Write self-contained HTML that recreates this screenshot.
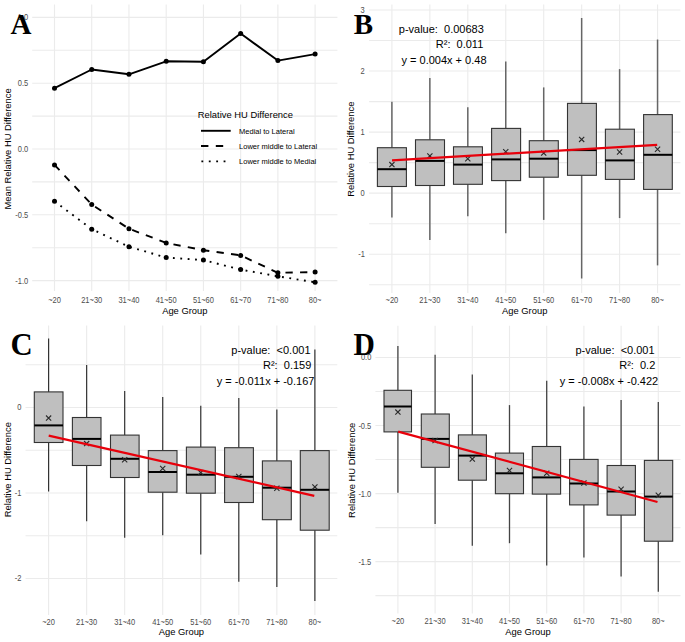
<!DOCTYPE html>
<html><head><meta charset="utf-8"><style>
html,body{margin:0;padding:0;background:#fff;}
body{width:685px;height:642px;overflow:hidden;}
svg{display:block;font-family:"Liberation Sans", sans-serif;}
</style></head><body>
<svg width="685" height="642" viewBox="0 0 685 642">
<rect width="685" height="642" fill="#fff"/>
<line x1="54.50" y1="4.5" x2="54.50" y2="291" stroke="#ebebeb" stroke-width="1.1"/>
<line x1="91.73" y1="4.5" x2="91.73" y2="291" stroke="#ebebeb" stroke-width="1.1"/>
<line x1="128.96" y1="4.5" x2="128.96" y2="291" stroke="#ebebeb" stroke-width="1.1"/>
<line x1="166.19" y1="4.5" x2="166.19" y2="291" stroke="#ebebeb" stroke-width="1.1"/>
<line x1="203.42" y1="4.5" x2="203.42" y2="291" stroke="#ebebeb" stroke-width="1.1"/>
<line x1="240.65" y1="4.5" x2="240.65" y2="291" stroke="#ebebeb" stroke-width="1.1"/>
<line x1="277.88" y1="4.5" x2="277.88" y2="291" stroke="#ebebeb" stroke-width="1.1"/>
<line x1="315.11" y1="4.5" x2="315.11" y2="291" stroke="#ebebeb" stroke-width="1.1"/>
<line x1="32.2" y1="17.40" x2="337.4" y2="17.40" stroke="#ebebeb" stroke-width="1.1"/>
<line x1="32.2" y1="50.30" x2="337.4" y2="50.30" stroke="#ebebeb" stroke-width="1.1"/>
<line x1="32.2" y1="83.20" x2="337.4" y2="83.20" stroke="#ebebeb" stroke-width="1.1"/>
<line x1="32.2" y1="116.10" x2="337.4" y2="116.10" stroke="#ebebeb" stroke-width="1.1"/>
<line x1="32.2" y1="149.00" x2="337.4" y2="149.00" stroke="#ebebeb" stroke-width="1.1"/>
<line x1="32.2" y1="181.90" x2="337.4" y2="181.90" stroke="#ebebeb" stroke-width="1.1"/>
<line x1="32.2" y1="214.80" x2="337.4" y2="214.80" stroke="#ebebeb" stroke-width="1.1"/>
<line x1="32.2" y1="247.70" x2="337.4" y2="247.70" stroke="#ebebeb" stroke-width="1.1"/>
<line x1="32.2" y1="280.60" x2="337.4" y2="280.60" stroke="#ebebeb" stroke-width="1.1"/>
<text transform="translate(28.2,20.35) scale(1,1.12)" text-anchor="end" font-size="7.5" fill="#4d4d4d">1.0</text>
<text transform="translate(28.2,86.15) scale(1,1.12)" text-anchor="end" font-size="7.5" fill="#4d4d4d">0.5</text>
<text transform="translate(28.2,151.95) scale(1,1.12)" text-anchor="end" font-size="7.5" fill="#4d4d4d">0.0</text>
<text transform="translate(28.2,217.75) scale(1,1.12)" text-anchor="end" font-size="7.5" fill="#4d4d4d">-0.5</text>
<text transform="translate(28.2,283.55) scale(1,1.12)" text-anchor="end" font-size="7.5" fill="#4d4d4d">-1.0</text>
<text transform="translate(54.50,303.4) scale(1,1.12)" text-anchor="middle" font-size="7.5" fill="#4d4d4d">~20</text>
<text transform="translate(91.73,303.4) scale(1,1.12)" text-anchor="middle" font-size="7.5" fill="#4d4d4d">21~30</text>
<text transform="translate(128.96,303.4) scale(1,1.12)" text-anchor="middle" font-size="7.5" fill="#4d4d4d">31~40</text>
<text transform="translate(166.19,303.4) scale(1,1.12)" text-anchor="middle" font-size="7.5" fill="#4d4d4d">41~50</text>
<text transform="translate(203.42,303.4) scale(1,1.12)" text-anchor="middle" font-size="7.5" fill="#4d4d4d">51~60</text>
<text transform="translate(240.65,303.4) scale(1,1.12)" text-anchor="middle" font-size="7.5" fill="#4d4d4d">61~70</text>
<text transform="translate(277.88,303.4) scale(1,1.12)" text-anchor="middle" font-size="7.5" fill="#4d4d4d">71~80</text>
<text transform="translate(315.11,303.4) scale(1,1.12)" text-anchor="middle" font-size="7.5" fill="#4d4d4d">80~</text>
<text x="184.8" y="314.4" text-anchor="middle" font-size="9.4" fill="#000">Age Group</text>
<text transform="translate(11.2,149) rotate(-90)" x="0" y="0" text-anchor="middle" font-size="9.4" fill="#000">Mean Relative HU Difference</text>
<polyline points="54.50,88.2 91.73,69.5 128.96,74.3 166.19,61.3 203.42,61.8 240.65,33.6 277.88,60.6 315.11,54.1" fill="none" stroke="#000" stroke-width="1.9" stroke-linejoin="round" />
<circle cx="54.50" cy="88.2" r="2.5" fill="#000"/>
<circle cx="91.73" cy="69.5" r="2.5" fill="#000"/>
<circle cx="128.96" cy="74.3" r="2.5" fill="#000"/>
<circle cx="166.19" cy="61.3" r="2.5" fill="#000"/>
<circle cx="203.42" cy="61.8" r="2.5" fill="#000"/>
<circle cx="240.65" cy="33.6" r="2.5" fill="#000"/>
<circle cx="277.88" cy="60.6" r="2.5" fill="#000"/>
<circle cx="315.11" cy="54.1" r="2.5" fill="#000"/>
<polyline points="54.50,164.9 91.73,204.5 128.96,228.7 166.19,242.9 203.42,250.2 240.65,255.4 277.88,272.8 315.11,272.1" fill="none" stroke="#000" stroke-width="1.9" stroke-linejoin="round" stroke-dasharray="7.3,7.3"/>
<circle cx="54.50" cy="164.9" r="2.5" fill="#000"/>
<circle cx="91.73" cy="204.5" r="2.5" fill="#000"/>
<circle cx="128.96" cy="228.7" r="2.5" fill="#000"/>
<circle cx="166.19" cy="242.9" r="2.5" fill="#000"/>
<circle cx="203.42" cy="250.2" r="2.5" fill="#000"/>
<circle cx="240.65" cy="255.4" r="2.5" fill="#000"/>
<circle cx="277.88" cy="272.8" r="2.5" fill="#000"/>
<circle cx="315.11" cy="272.1" r="2.5" fill="#000"/>
<polyline points="54.50,201.3 91.73,229.2 128.96,246.7 166.19,257.6 203.42,260.1 240.65,269.6 277.88,276.3 315.11,282.3" fill="none" stroke="#000" stroke-width="1.9" stroke-linejoin="round" stroke-dasharray="1.85,5.55" stroke-linecap="butt"/>
<circle cx="54.50" cy="201.3" r="2.5" fill="#000"/>
<circle cx="91.73" cy="229.2" r="2.5" fill="#000"/>
<circle cx="128.96" cy="246.7" r="2.5" fill="#000"/>
<circle cx="166.19" cy="257.6" r="2.5" fill="#000"/>
<circle cx="203.42" cy="260.1" r="2.5" fill="#000"/>
<circle cx="240.65" cy="269.6" r="2.5" fill="#000"/>
<circle cx="277.88" cy="276.3" r="2.5" fill="#000"/>
<circle cx="315.11" cy="282.3" r="2.5" fill="#000"/>
<text x="197.8" y="118.3" font-size="9.4" fill="#000">Relative HU Difference</text>
<line x1="201" y1="130.8" x2="230.7" y2="130.8" stroke="#000" stroke-width="1.9"/>
<line x1="201" y1="146" x2="224" y2="146" stroke="#000" stroke-width="1.9" stroke-dasharray="7.4,7.4"/>
<line x1="201.4" y1="161.4" x2="230.7" y2="161.4" stroke="#000" stroke-width="1.9" stroke-dasharray="1.85,5.55"/>
<text x="239.1" y="133.50" font-size="7.5" fill="#000">Medial to Lateral</text>
<text x="239.1" y="148.70" font-size="7.5" fill="#000">Lower middle to Lateral</text>
<text x="239.1" y="164.10" font-size="7.5" fill="#000">Lower middle to Medial</text>
<text x="10.5" y="33.9" font-family='"Liberation Serif", serif' font-weight="bold" font-size="29" fill="#000">A</text>
<line x1="391.90" y1="4.5" x2="391.90" y2="293" stroke="#ebebeb" stroke-width="1.1"/>
<line x1="429.85" y1="4.5" x2="429.85" y2="293" stroke="#ebebeb" stroke-width="1.1"/>
<line x1="467.80" y1="4.5" x2="467.80" y2="293" stroke="#ebebeb" stroke-width="1.1"/>
<line x1="505.75" y1="4.5" x2="505.75" y2="293" stroke="#ebebeb" stroke-width="1.1"/>
<line x1="543.70" y1="4.5" x2="543.70" y2="293" stroke="#ebebeb" stroke-width="1.1"/>
<line x1="581.65" y1="4.5" x2="581.65" y2="293" stroke="#ebebeb" stroke-width="1.1"/>
<line x1="619.60" y1="4.5" x2="619.60" y2="293" stroke="#ebebeb" stroke-width="1.1"/>
<line x1="657.55" y1="4.5" x2="657.55" y2="293" stroke="#ebebeb" stroke-width="1.1"/>
<line x1="369.1" y1="10.00" x2="680.4" y2="10.00" stroke="#ebebeb" stroke-width="1.1"/>
<line x1="369.1" y1="40.53" x2="680.4" y2="40.53" stroke="#ebebeb" stroke-width="1.1"/>
<line x1="369.1" y1="71.05" x2="680.4" y2="71.05" stroke="#ebebeb" stroke-width="1.1"/>
<line x1="369.1" y1="101.58" x2="680.4" y2="101.58" stroke="#ebebeb" stroke-width="1.1"/>
<line x1="369.1" y1="132.10" x2="680.4" y2="132.10" stroke="#ebebeb" stroke-width="1.1"/>
<line x1="369.1" y1="162.62" x2="680.4" y2="162.62" stroke="#ebebeb" stroke-width="1.1"/>
<line x1="369.1" y1="193.15" x2="680.4" y2="193.15" stroke="#ebebeb" stroke-width="1.1"/>
<line x1="369.1" y1="223.68" x2="680.4" y2="223.68" stroke="#ebebeb" stroke-width="1.1"/>
<line x1="369.1" y1="254.20" x2="680.4" y2="254.20" stroke="#ebebeb" stroke-width="1.1"/>
<line x1="369.1" y1="284.73" x2="680.4" y2="284.73" stroke="#ebebeb" stroke-width="1.1"/>
<text transform="translate(364.8,12.95) scale(1,1.12)" text-anchor="end" font-size="7.5" fill="#4d4d4d">3</text>
<text transform="translate(364.8,74.00) scale(1,1.12)" text-anchor="end" font-size="7.5" fill="#4d4d4d">2</text>
<text transform="translate(364.8,135.05) scale(1,1.12)" text-anchor="end" font-size="7.5" fill="#4d4d4d">1</text>
<text transform="translate(364.8,196.10) scale(1,1.12)" text-anchor="end" font-size="7.5" fill="#4d4d4d">0</text>
<text transform="translate(364.8,257.15) scale(1,1.12)" text-anchor="end" font-size="7.5" fill="#4d4d4d">-1</text>
<text transform="translate(391.90,303.4) scale(1,1.12)" text-anchor="middle" font-size="7.5" fill="#4d4d4d">~20</text>
<text transform="translate(429.85,303.4) scale(1,1.12)" text-anchor="middle" font-size="7.5" fill="#4d4d4d">21~30</text>
<text transform="translate(467.80,303.4) scale(1,1.12)" text-anchor="middle" font-size="7.5" fill="#4d4d4d">31~40</text>
<text transform="translate(505.75,303.4) scale(1,1.12)" text-anchor="middle" font-size="7.5" fill="#4d4d4d">41~50</text>
<text transform="translate(543.70,303.4) scale(1,1.12)" text-anchor="middle" font-size="7.5" fill="#4d4d4d">51~60</text>
<text transform="translate(581.65,303.4) scale(1,1.12)" text-anchor="middle" font-size="7.5" fill="#4d4d4d">61~70</text>
<text transform="translate(619.60,303.4) scale(1,1.12)" text-anchor="middle" font-size="7.5" fill="#4d4d4d">71~80</text>
<text transform="translate(657.55,303.4) scale(1,1.12)" text-anchor="middle" font-size="7.5" fill="#4d4d4d">80~</text>
<text x="524.7" y="314.4" text-anchor="middle" font-size="9.4" fill="#000">Age Group</text>
<text transform="translate(354.3,149.2) rotate(-90)" x="0" y="0" text-anchor="middle" font-size="9.4" fill="#000">Relative HU Difference</text>
<line x1="391.90" y1="101.8" x2="391.90" y2="147.7" stroke="#666" stroke-width="1.5"/>
<line x1="391.90" y1="186.5" x2="391.90" y2="217.4" stroke="#666" stroke-width="1.5"/>
<rect x="377.4" y="147.7" width="29.00" height="38.80" fill="#bfbfbf" stroke="#333" stroke-width="1.1"/>
<line x1="377.4" y1="169.2" x2="406.4" y2="169.2" stroke="#000" stroke-width="2"/>
<line x1="429.85" y1="78" x2="429.85" y2="139.8" stroke="#666" stroke-width="1.5"/>
<line x1="429.85" y1="185.5" x2="429.85" y2="239.9" stroke="#666" stroke-width="1.5"/>
<rect x="415.5" y="139.8" width="29.00" height="45.70" fill="#bfbfbf" stroke="#333" stroke-width="1.1"/>
<line x1="415.5" y1="160.9" x2="444.5" y2="160.9" stroke="#000" stroke-width="2"/>
<line x1="467.80" y1="107.2" x2="467.80" y2="146.8" stroke="#666" stroke-width="1.5"/>
<line x1="467.80" y1="184.3" x2="467.80" y2="216.3" stroke="#666" stroke-width="1.5"/>
<rect x="453.5" y="146.8" width="28.90" height="37.50" fill="#bfbfbf" stroke="#333" stroke-width="1.1"/>
<line x1="453.5" y1="164.6" x2="482.4" y2="164.6" stroke="#000" stroke-width="2"/>
<line x1="505.75" y1="61.4" x2="505.75" y2="128.4" stroke="#666" stroke-width="1.5"/>
<line x1="505.75" y1="180.6" x2="505.75" y2="233.3" stroke="#666" stroke-width="1.5"/>
<rect x="491.6" y="128.4" width="29.00" height="52.20" fill="#bfbfbf" stroke="#333" stroke-width="1.1"/>
<line x1="491.6" y1="159.4" x2="520.6" y2="159.4" stroke="#000" stroke-width="2"/>
<line x1="543.70" y1="87.4" x2="543.70" y2="140.7" stroke="#666" stroke-width="1.5"/>
<line x1="543.70" y1="177.2" x2="543.70" y2="219.9" stroke="#666" stroke-width="1.5"/>
<rect x="529.3" y="140.7" width="29.00" height="36.50" fill="#bfbfbf" stroke="#333" stroke-width="1.1"/>
<line x1="529.3" y1="158.7" x2="558.3" y2="158.7" stroke="#000" stroke-width="2"/>
<line x1="581.65" y1="18" x2="581.65" y2="103.4" stroke="#666" stroke-width="1.5"/>
<line x1="581.65" y1="175.3" x2="581.65" y2="278.5" stroke="#666" stroke-width="1.5"/>
<rect x="567.5" y="103.4" width="28.90" height="71.90" fill="#bfbfbf" stroke="#333" stroke-width="1.1"/>
<line x1="567.5" y1="150.1" x2="596.4" y2="150.1" stroke="#000" stroke-width="2"/>
<line x1="619.60" y1="69.1" x2="619.60" y2="129.2" stroke="#666" stroke-width="1.5"/>
<line x1="619.60" y1="179.4" x2="619.60" y2="218.1" stroke="#666" stroke-width="1.5"/>
<rect x="605.4" y="129.2" width="29.00" height="50.20" fill="#bfbfbf" stroke="#333" stroke-width="1.1"/>
<line x1="605.4" y1="160.4" x2="634.4" y2="160.4" stroke="#000" stroke-width="2"/>
<line x1="657.55" y1="39.5" x2="657.55" y2="114.6" stroke="#666" stroke-width="1.5"/>
<line x1="657.55" y1="189.4" x2="657.55" y2="265.4" stroke="#666" stroke-width="1.5"/>
<rect x="643.6" y="114.6" width="28.70" height="74.80" fill="#bfbfbf" stroke="#333" stroke-width="1.1"/>
<line x1="643.6" y1="154.8" x2="672.3" y2="154.8" stroke="#000" stroke-width="2"/>
<path d="M389.30,162.00L394.50,167.20M389.30,167.20L394.50,162.00" stroke="#2a2a2a" stroke-width="1.1" fill="none"/>
<path d="M427.25,153.30L432.45,158.50M427.25,158.50L432.45,153.30" stroke="#2a2a2a" stroke-width="1.1" fill="none"/>
<path d="M465.20,156.10L470.40,161.30M465.20,161.30L470.40,156.10" stroke="#2a2a2a" stroke-width="1.1" fill="none"/>
<path d="M503.15,149.20L508.35,154.40M503.15,154.40L508.35,149.20" stroke="#2a2a2a" stroke-width="1.1" fill="none"/>
<path d="M541.10,150.50L546.30,155.70M541.10,155.70L546.30,150.50" stroke="#2a2a2a" stroke-width="1.1" fill="none"/>
<path d="M579.05,136.80L584.25,142.00M579.05,142.00L584.25,136.80" stroke="#2a2a2a" stroke-width="1.1" fill="none"/>
<path d="M617.00,149.40L622.20,154.60M617.00,154.60L622.20,149.40" stroke="#2a2a2a" stroke-width="1.1" fill="none"/>
<path d="M654.95,146.60L660.15,151.80M654.95,151.80L660.15,146.60" stroke="#2a2a2a" stroke-width="1.1" fill="none"/>
<line x1="392" y1="160.3" x2="657.2" y2="144.9" stroke="#e8000b" stroke-width="2.2"/>
<text x="483.8" y="32.60" text-anchor="end" font-size="11" fill="#000" xml:space="preserve">p-value:  0.00683</text>
<text x="483.3" y="48.30" text-anchor="end" font-size="11" fill="#000" xml:space="preserve">R²:  0.011</text>
<text x="486.5" y="63.70" text-anchor="end" font-size="11" fill="#000" xml:space="preserve">y = 0.004x + 0.48</text>
<text transform="translate(353.7,34.3) scale(1,1.05)" font-family='"Liberation Serif", serif' font-weight="bold" font-size="29" fill="#000">B</text>
<line x1="48.60" y1="325.4" x2="48.60" y2="615" stroke="#ebebeb" stroke-width="1.1"/>
<line x1="86.64" y1="325.4" x2="86.64" y2="615" stroke="#ebebeb" stroke-width="1.1"/>
<line x1="124.68" y1="325.4" x2="124.68" y2="615" stroke="#ebebeb" stroke-width="1.1"/>
<line x1="162.72" y1="325.4" x2="162.72" y2="615" stroke="#ebebeb" stroke-width="1.1"/>
<line x1="200.76" y1="325.4" x2="200.76" y2="615" stroke="#ebebeb" stroke-width="1.1"/>
<line x1="238.80" y1="325.4" x2="238.80" y2="615" stroke="#ebebeb" stroke-width="1.1"/>
<line x1="276.84" y1="325.4" x2="276.84" y2="615" stroke="#ebebeb" stroke-width="1.1"/>
<line x1="314.88" y1="325.4" x2="314.88" y2="615" stroke="#ebebeb" stroke-width="1.1"/>
<line x1="25.5" y1="364.75" x2="337.3" y2="364.75" stroke="#ebebeb" stroke-width="1.1"/>
<line x1="25.5" y1="407.50" x2="337.3" y2="407.50" stroke="#ebebeb" stroke-width="1.1"/>
<line x1="25.5" y1="450.25" x2="337.3" y2="450.25" stroke="#ebebeb" stroke-width="1.1"/>
<line x1="25.5" y1="493.00" x2="337.3" y2="493.00" stroke="#ebebeb" stroke-width="1.1"/>
<line x1="25.5" y1="535.75" x2="337.3" y2="535.75" stroke="#ebebeb" stroke-width="1.1"/>
<line x1="25.5" y1="578.50" x2="337.3" y2="578.50" stroke="#ebebeb" stroke-width="1.1"/>
<text transform="translate(21.5,410.45) scale(1,1.12)" text-anchor="end" font-size="7.5" fill="#4d4d4d">0</text>
<text transform="translate(21.5,495.95) scale(1,1.12)" text-anchor="end" font-size="7.5" fill="#4d4d4d">-1</text>
<text transform="translate(21.5,581.45) scale(1,1.12)" text-anchor="end" font-size="7.5" fill="#4d4d4d">-2</text>
<text transform="translate(48.60,624.6) scale(1,1.12)" text-anchor="middle" font-size="7.5" fill="#4d4d4d">~20</text>
<text transform="translate(86.64,624.6) scale(1,1.12)" text-anchor="middle" font-size="7.5" fill="#4d4d4d">21~30</text>
<text transform="translate(124.68,624.6) scale(1,1.12)" text-anchor="middle" font-size="7.5" fill="#4d4d4d">31~40</text>
<text transform="translate(162.72,624.6) scale(1,1.12)" text-anchor="middle" font-size="7.5" fill="#4d4d4d">41~50</text>
<text transform="translate(200.76,624.6) scale(1,1.12)" text-anchor="middle" font-size="7.5" fill="#4d4d4d">51~60</text>
<text transform="translate(238.80,624.6) scale(1,1.12)" text-anchor="middle" font-size="7.5" fill="#4d4d4d">61~70</text>
<text transform="translate(276.84,624.6) scale(1,1.12)" text-anchor="middle" font-size="7.5" fill="#4d4d4d">71~80</text>
<text transform="translate(314.88,624.6) scale(1,1.12)" text-anchor="middle" font-size="7.5" fill="#4d4d4d">80~</text>
<text x="181.4" y="635.4" text-anchor="middle" font-size="9.4" fill="#000">Age Group</text>
<text transform="translate(11.2,469.7) rotate(-90)" x="0" y="0" text-anchor="middle" font-size="9.4" fill="#000">Relative HU Difference</text>
<line x1="48.60" y1="338.5" x2="48.60" y2="391.9" stroke="#333" stroke-width="1.2"/>
<line x1="48.60" y1="442.5" x2="48.60" y2="491.5" stroke="#333" stroke-width="1.2"/>
<rect x="34.3" y="391.9" width="28.70" height="50.60" fill="#bfbfbf" stroke="#333" stroke-width="1.1"/>
<line x1="34.3" y1="425.4" x2="63" y2="425.4" stroke="#000" stroke-width="2"/>
<line x1="86.64" y1="365" x2="86.64" y2="417.5" stroke="#333" stroke-width="1.2"/>
<line x1="86.64" y1="465.5" x2="86.64" y2="521.2" stroke="#333" stroke-width="1.2"/>
<rect x="72.4" y="417.5" width="28.60" height="48.00" fill="#bfbfbf" stroke="#333" stroke-width="1.1"/>
<line x1="72.4" y1="438.9" x2="101" y2="438.9" stroke="#000" stroke-width="2"/>
<line x1="124.68" y1="390.9" x2="124.68" y2="435.1" stroke="#333" stroke-width="1.2"/>
<line x1="124.68" y1="477.5" x2="124.68" y2="537.8" stroke="#333" stroke-width="1.2"/>
<rect x="110.5" y="435.1" width="28.60" height="42.40" fill="#bfbfbf" stroke="#333" stroke-width="1.1"/>
<line x1="110.5" y1="458.8" x2="139.1" y2="458.8" stroke="#000" stroke-width="2"/>
<line x1="162.72" y1="397" x2="162.72" y2="450.6" stroke="#333" stroke-width="1.2"/>
<line x1="162.72" y1="492.2" x2="162.72" y2="535.3" stroke="#333" stroke-width="1.2"/>
<rect x="148.3" y="450.6" width="28.70" height="41.60" fill="#bfbfbf" stroke="#333" stroke-width="1.1"/>
<line x1="148.3" y1="472" x2="177" y2="472" stroke="#000" stroke-width="2"/>
<line x1="200.76" y1="405.7" x2="200.76" y2="447.1" stroke="#333" stroke-width="1.2"/>
<line x1="200.76" y1="493.2" x2="200.76" y2="554.4" stroke="#333" stroke-width="1.2"/>
<rect x="186.4" y="447.1" width="28.90" height="46.10" fill="#bfbfbf" stroke="#333" stroke-width="1.1"/>
<line x1="186.4" y1="474.7" x2="215.3" y2="474.7" stroke="#000" stroke-width="2"/>
<line x1="238.80" y1="397.9" x2="238.80" y2="447.7" stroke="#333" stroke-width="1.2"/>
<line x1="238.80" y1="502.5" x2="238.80" y2="581.8" stroke="#333" stroke-width="1.2"/>
<rect x="224.6" y="447.7" width="28.80" height="54.80" fill="#bfbfbf" stroke="#333" stroke-width="1.1"/>
<line x1="224.6" y1="476.8" x2="253.4" y2="476.8" stroke="#000" stroke-width="2"/>
<line x1="276.84" y1="409.5" x2="276.84" y2="460.9" stroke="#333" stroke-width="1.2"/>
<line x1="276.84" y1="519.7" x2="276.84" y2="586.9" stroke="#333" stroke-width="1.2"/>
<rect x="262.4" y="460.9" width="28.90" height="58.80" fill="#bfbfbf" stroke="#333" stroke-width="1.1"/>
<line x1="262.4" y1="487.7" x2="291.3" y2="487.7" stroke="#000" stroke-width="2"/>
<line x1="314.88" y1="349.4" x2="314.88" y2="450.6" stroke="#333" stroke-width="1.2"/>
<line x1="314.88" y1="530.2" x2="314.88" y2="600.9" stroke="#333" stroke-width="1.2"/>
<rect x="300.3" y="450.6" width="28.90" height="79.60" fill="#bfbfbf" stroke="#333" stroke-width="1.1"/>
<line x1="300.3" y1="489.8" x2="329.2" y2="489.8" stroke="#000" stroke-width="2"/>
<path d="M46.00,415.50L51.20,420.70M46.00,420.70L51.20,415.50" stroke="#2a2a2a" stroke-width="1.1" fill="none"/>
<path d="M84.04,441.00L89.24,446.20M84.04,446.20L89.24,441.00" stroke="#2a2a2a" stroke-width="1.1" fill="none"/>
<path d="M122.08,457.20L127.28,462.40M122.08,462.40L127.28,457.20" stroke="#2a2a2a" stroke-width="1.1" fill="none"/>
<path d="M160.12,465.90L165.32,471.10M160.12,471.10L165.32,465.90" stroke="#2a2a2a" stroke-width="1.1" fill="none"/>
<path d="M198.16,470.00L203.36,475.20M198.16,475.20L203.36,470.00" stroke="#2a2a2a" stroke-width="1.1" fill="none"/>
<path d="M236.20,473.90L241.40,479.10M236.20,479.10L241.40,473.90" stroke="#2a2a2a" stroke-width="1.1" fill="none"/>
<path d="M274.24,485.60L279.44,490.80M274.24,490.80L279.44,485.60" stroke="#2a2a2a" stroke-width="1.1" fill="none"/>
<path d="M312.28,484.30L317.48,489.50M312.28,489.50L317.48,484.30" stroke="#2a2a2a" stroke-width="1.1" fill="none"/>
<line x1="48.7" y1="435.6" x2="314.3" y2="495.9" stroke="#e8000b" stroke-width="2.2"/>
<text x="310.5" y="353.80" text-anchor="end" font-size="11" fill="#000" xml:space="preserve">p-value:  &lt;0.001</text>
<text x="311.3" y="369.40" text-anchor="end" font-size="11" fill="#000" xml:space="preserve">R²:  0.159</text>
<text x="314.4" y="385.20" text-anchor="end" font-size="11" fill="#000" xml:space="preserve">y = -0.011x + -0.167</text>
<text transform="translate(10.6,355) scale(1.06,1.12)" font-family='"Liberation Serif", serif' font-weight="bold" font-size="29" fill="#000">C</text>
<line x1="397.90" y1="325.7" x2="397.90" y2="613.4" stroke="#ebebeb" stroke-width="1.1"/>
<line x1="435.10" y1="325.7" x2="435.10" y2="613.4" stroke="#ebebeb" stroke-width="1.1"/>
<line x1="472.30" y1="325.7" x2="472.30" y2="613.4" stroke="#ebebeb" stroke-width="1.1"/>
<line x1="509.50" y1="325.7" x2="509.50" y2="613.4" stroke="#ebebeb" stroke-width="1.1"/>
<line x1="546.70" y1="325.7" x2="546.70" y2="613.4" stroke="#ebebeb" stroke-width="1.1"/>
<line x1="583.90" y1="325.7" x2="583.90" y2="613.4" stroke="#ebebeb" stroke-width="1.1"/>
<line x1="621.10" y1="325.7" x2="621.10" y2="613.4" stroke="#ebebeb" stroke-width="1.1"/>
<line x1="658.30" y1="325.7" x2="658.30" y2="613.4" stroke="#ebebeb" stroke-width="1.1"/>
<line x1="375.4" y1="357.50" x2="680.5" y2="357.50" stroke="#ebebeb" stroke-width="1.1"/>
<line x1="375.4" y1="391.52" x2="680.5" y2="391.52" stroke="#ebebeb" stroke-width="1.1"/>
<line x1="375.4" y1="425.55" x2="680.5" y2="425.55" stroke="#ebebeb" stroke-width="1.1"/>
<line x1="375.4" y1="459.57" x2="680.5" y2="459.57" stroke="#ebebeb" stroke-width="1.1"/>
<line x1="375.4" y1="493.60" x2="680.5" y2="493.60" stroke="#ebebeb" stroke-width="1.1"/>
<line x1="375.4" y1="527.62" x2="680.5" y2="527.62" stroke="#ebebeb" stroke-width="1.1"/>
<line x1="375.4" y1="561.65" x2="680.5" y2="561.65" stroke="#ebebeb" stroke-width="1.1"/>
<line x1="375.4" y1="595.67" x2="680.5" y2="595.67" stroke="#ebebeb" stroke-width="1.1"/>
<text transform="translate(371.3,360.45) scale(1,1.12)" text-anchor="end" font-size="7.5" fill="#4d4d4d">0.0</text>
<text transform="translate(371.3,428.50) scale(1,1.12)" text-anchor="end" font-size="7.5" fill="#4d4d4d">-0.5</text>
<text transform="translate(371.3,496.55) scale(1,1.12)" text-anchor="end" font-size="7.5" fill="#4d4d4d">-1.0</text>
<text transform="translate(371.3,564.60) scale(1,1.12)" text-anchor="end" font-size="7.5" fill="#4d4d4d">-1.5</text>
<text transform="translate(397.90,624.4) scale(1,1.12)" text-anchor="middle" font-size="7.5" fill="#4d4d4d">~20</text>
<text transform="translate(435.10,624.4) scale(1,1.12)" text-anchor="middle" font-size="7.5" fill="#4d4d4d">21~30</text>
<text transform="translate(472.30,624.4) scale(1,1.12)" text-anchor="middle" font-size="7.5" fill="#4d4d4d">31~40</text>
<text transform="translate(509.50,624.4) scale(1,1.12)" text-anchor="middle" font-size="7.5" fill="#4d4d4d">41~50</text>
<text transform="translate(546.70,624.4) scale(1,1.12)" text-anchor="middle" font-size="7.5" fill="#4d4d4d">51~60</text>
<text transform="translate(583.90,624.4) scale(1,1.12)" text-anchor="middle" font-size="7.5" fill="#4d4d4d">61~70</text>
<text transform="translate(621.10,624.4) scale(1,1.12)" text-anchor="middle" font-size="7.5" fill="#4d4d4d">71~80</text>
<text transform="translate(658.30,624.4) scale(1,1.12)" text-anchor="middle" font-size="7.5" fill="#4d4d4d">80~</text>
<text x="528" y="635.2" text-anchor="middle" font-size="9.4" fill="#000">Age Group</text>
<text transform="translate(355.3,470.3) rotate(-90)" x="0" y="0" text-anchor="middle" font-size="9.4" fill="#000">Relative HU Difference</text>
<line x1="397.90" y1="345.9" x2="397.90" y2="390.3" stroke="#444" stroke-width="1.3"/>
<line x1="397.90" y1="431.9" x2="397.90" y2="492.7" stroke="#444" stroke-width="1.3"/>
<rect x="384" y="390.3" width="27.50" height="41.60" fill="#bfbfbf" stroke="#333" stroke-width="1.1"/>
<line x1="384" y1="406.5" x2="411.5" y2="406.5" stroke="#000" stroke-width="2"/>
<line x1="435.10" y1="354.8" x2="435.10" y2="414" stroke="#444" stroke-width="1.3"/>
<line x1="435.10" y1="467.3" x2="435.10" y2="524.1" stroke="#444" stroke-width="1.3"/>
<rect x="421.3" y="414" width="28.00" height="53.30" fill="#bfbfbf" stroke="#333" stroke-width="1.1"/>
<line x1="421.3" y1="438.9" x2="449.3" y2="438.9" stroke="#000" stroke-width="2"/>
<line x1="472.30" y1="374.4" x2="472.30" y2="434.9" stroke="#444" stroke-width="1.3"/>
<line x1="472.30" y1="480.2" x2="472.30" y2="545.8" stroke="#444" stroke-width="1.3"/>
<rect x="458.4" y="434.9" width="28.00" height="45.30" fill="#bfbfbf" stroke="#333" stroke-width="1.1"/>
<line x1="458.4" y1="455.6" x2="486.4" y2="455.6" stroke="#000" stroke-width="2"/>
<line x1="509.50" y1="405.1" x2="509.50" y2="453.1" stroke="#444" stroke-width="1.3"/>
<line x1="509.50" y1="493.7" x2="509.50" y2="543.2" stroke="#444" stroke-width="1.3"/>
<rect x="495.4" y="453.1" width="28.10" height="40.60" fill="#bfbfbf" stroke="#333" stroke-width="1.1"/>
<line x1="495.4" y1="473.3" x2="523.5" y2="473.3" stroke="#000" stroke-width="2"/>
<line x1="546.70" y1="380.8" x2="546.70" y2="446.5" stroke="#444" stroke-width="1.3"/>
<line x1="546.70" y1="494.1" x2="546.70" y2="565.6" stroke="#444" stroke-width="1.3"/>
<rect x="532.3" y="446.5" width="28.30" height="47.60" fill="#bfbfbf" stroke="#333" stroke-width="1.1"/>
<line x1="532.3" y1="477.4" x2="560.6" y2="477.4" stroke="#000" stroke-width="2"/>
<line x1="583.90" y1="406.6" x2="583.90" y2="459.4" stroke="#444" stroke-width="1.3"/>
<line x1="583.90" y1="504.9" x2="583.90" y2="557.4" stroke="#444" stroke-width="1.3"/>
<rect x="569.6" y="459.4" width="28.50" height="45.50" fill="#bfbfbf" stroke="#333" stroke-width="1.1"/>
<line x1="569.6" y1="483.5" x2="598.1" y2="483.5" stroke="#000" stroke-width="2"/>
<line x1="621.10" y1="400.1" x2="621.10" y2="465.5" stroke="#444" stroke-width="1.3"/>
<line x1="621.10" y1="515.1" x2="621.10" y2="576.4" stroke="#444" stroke-width="1.3"/>
<rect x="607.1" y="465.5" width="28.30" height="49.60" fill="#bfbfbf" stroke="#333" stroke-width="1.1"/>
<line x1="607.1" y1="491.5" x2="635.4" y2="491.5" stroke="#000" stroke-width="2"/>
<line x1="658.30" y1="401.9" x2="658.30" y2="460.4" stroke="#444" stroke-width="1.3"/>
<line x1="658.30" y1="541.2" x2="658.30" y2="591.8" stroke="#444" stroke-width="1.3"/>
<rect x="644.4" y="460.4" width="28.30" height="80.80" fill="#bfbfbf" stroke="#333" stroke-width="1.1"/>
<line x1="644.4" y1="496.6" x2="672.7" y2="496.6" stroke="#000" stroke-width="2"/>
<path d="M395.30,409.50L400.50,414.70M395.30,414.70L400.50,409.50" stroke="#2a2a2a" stroke-width="1.1" fill="none"/>
<path d="M432.50,438.00L437.70,443.20M432.50,443.20L437.70,438.00" stroke="#2a2a2a" stroke-width="1.1" fill="none"/>
<path d="M469.70,456.50L474.90,461.70M469.70,461.70L474.90,456.50" stroke="#2a2a2a" stroke-width="1.1" fill="none"/>
<path d="M506.90,467.90L512.10,473.10M506.90,473.10L512.10,467.90" stroke="#2a2a2a" stroke-width="1.1" fill="none"/>
<path d="M544.10,470.60L549.30,475.80M544.10,475.80L549.30,470.60" stroke="#2a2a2a" stroke-width="1.1" fill="none"/>
<path d="M581.30,480.40L586.50,485.60M581.30,485.60L586.50,480.40" stroke="#2a2a2a" stroke-width="1.1" fill="none"/>
<path d="M618.50,486.60L623.70,491.80M618.50,491.80L623.70,486.60" stroke="#2a2a2a" stroke-width="1.1" fill="none"/>
<path d="M655.70,492.70L660.90,497.90M655.70,497.90L660.90,492.70" stroke="#2a2a2a" stroke-width="1.1" fill="none"/>
<line x1="398.2" y1="431.6" x2="657.5" y2="502" stroke="#e8000b" stroke-width="2.2"/>
<text x="654.6" y="353.60" text-anchor="end" font-size="11" fill="#000" xml:space="preserve">p-value:  &lt;0.001</text>
<text x="655.3" y="369.30" text-anchor="end" font-size="11" fill="#000" xml:space="preserve">R²:  0.2</text>
<text x="658.2" y="385.40" text-anchor="end" font-size="11" fill="#000" xml:space="preserve">y = -0.008x + -0.422</text>
<text transform="translate(353.6,354.5) scale(1.02,1.07)" font-family='"Liberation Serif", serif' font-weight="bold" font-size="29" fill="#000">D</text>
</svg>
</body></html>
